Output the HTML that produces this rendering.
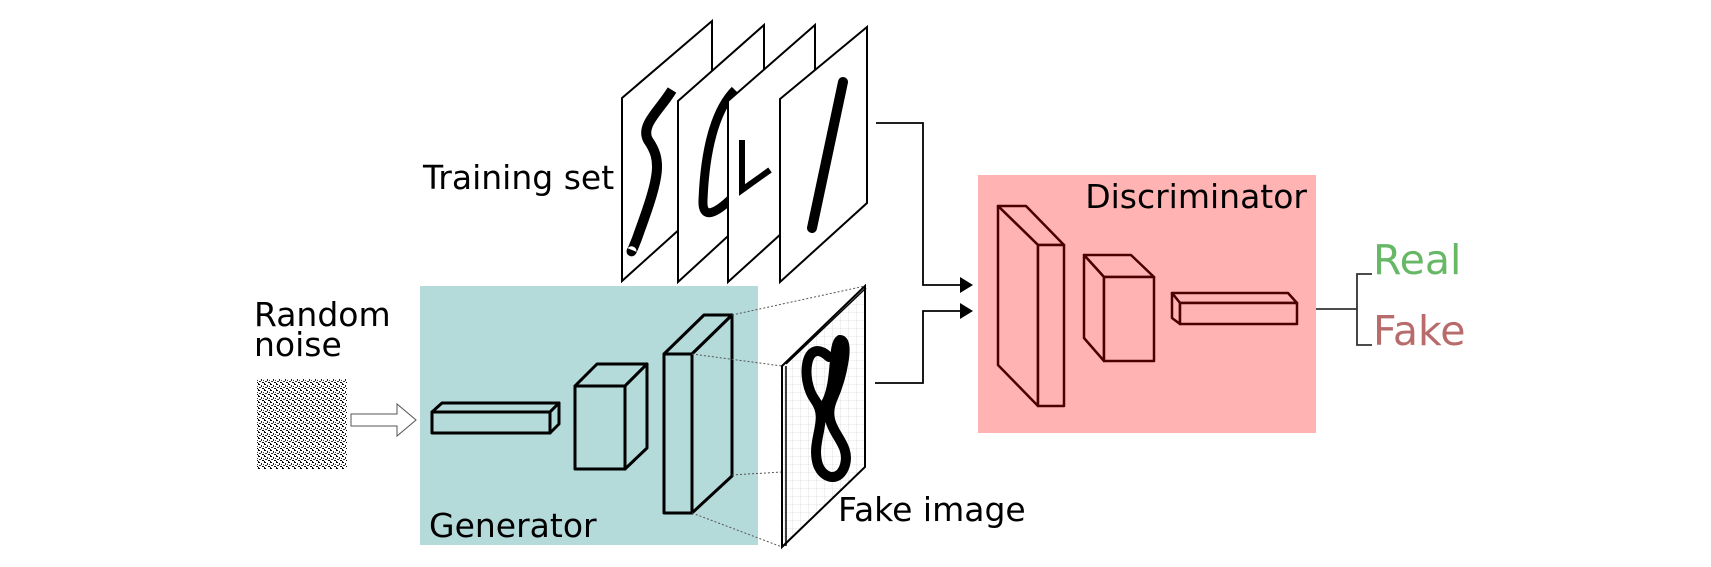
<!DOCTYPE html>
<html><head><meta charset="utf-8"><style>
html,body{margin:0;padding:0;background:#fff;}
svg{display:block;}
text{font-family:"DejaVu Sans","Liberation Sans",sans-serif;}
</style></head><body>
<svg width="1711" height="567" viewBox="0 0 1711 567" xmlns="http://www.w3.org/2000/svg">
<defs>
<pattern id="noise" width="6" height="6" patternUnits="userSpaceOnUse">
<rect width="6" height="6" fill="#fff"/>
<rect x="0" y="0" width="2" height="1" fill="#000"/><rect x="3" y="1" width="1" height="2" fill="#222"/>
<rect x="1" y="3" width="2" height="1" fill="#333"/><rect x="4" y="4" width="2" height="1" fill="#000"/>
<rect x="0" y="5" width="1" height="1" fill="#111"/><rect x="5" y="2" width="1" height="1" fill="#444"/>
</pattern>
<pattern id="grid" width="8" height="8" patternUnits="userSpaceOnUse">
<path d="M0 0V8M0 0H8" stroke="#ccc" stroke-width="0.6" fill="none"/>
</pattern>
</defs>

<rect x="420" y="286" width="338" height="259" fill="#b5dada"/>
<rect x="978" y="175" width="338" height="258" fill="#ffb3b3"/>

<rect x="257" y="379" width="90" height="90" fill="url(#noise)"/>
<path d="M351 414H397V404L416 420L397 436V426H351Z" fill="#fff" stroke="#555" stroke-width="1"/>

<g fill="#b5dada" stroke="#000" stroke-width="3" stroke-linejoin="round">
<path d="M432 412L442 403H559L550 412Z"/><path d="M550 412L559 403V424L550 433Z"/><rect x="432" y="412" width="118" height="21"/>
<path d="M575 386L597 364H647L625 386Z"/><path d="M625 386L647 364V448L625 469Z"/><rect x="575" y="386" width="50" height="83"/>
<path d="M664 354L704 315H732L692 354Z"/><path d="M692 354L732 315V476L692 513Z"/><rect x="664" y="354" width="28" height="159"/>
</g>
<g stroke="#555" stroke-width="1" stroke-dasharray="2,2" fill="none">
<path d="M732 315L865 286"/><path d="M692 354L782 366"/><path d="M732 475L865 467"/><path d="M692 513L782 547"/>
</g>
<path d="M782 366L865 286V467L782 547Z" fill="#fff"/>
<path d="M782 366L865 286V467L782 547Z" fill="url(#grid)" stroke="#000" stroke-width="2"/>
<path d="M786 364L866 288M786 366V546" stroke="#000" stroke-width="1.5"/>
<path d="M829 357C805 335 800 380 815 400C830 420 810 440 818 465C824 480 840 482 845 465C852 440 820 430 832 400C842 378 850 340 840 340C832 345 838 385 825 405" fill="none" stroke="#000" stroke-width="10" stroke-linecap="round"/>

<g fill="#fff" stroke="#000" stroke-width="2">
<path d="M622 98L712 21V200L622 281Z"/>
<path d="M672 90C660 110 640 125 648 140C662 160 660 175 640 230C635 245 630 255 632 250" fill="none" stroke="#000" stroke-width="10"/>
<path d="M678 101L764 25V203L678 282Z"/>
<path d="M735 90C715 110 705 150 703 200C702 220 715 215 735 195" fill="none" stroke="#000" stroke-width="9"/>
<path d="M728 101L815 25V203L728 282Z"/>
<path d="M742 140L742 190L770 170" fill="none" stroke="#000" stroke-width="6"/>
<path d="M780 99L867 27V203L780 282Z"/>
<path d="M843 82L812 228" fill="none" stroke="#000" stroke-width="10" stroke-linecap="round"/>
</g>

<g stroke="#000" stroke-width="1.8" fill="none">
<path d="M876 123H923V285H962"/>
<path d="M875 383H923V311H962"/>
</g>
<path d="M960 277L973 285L960 293Z M960 303L973 311L960 319Z" fill="#000"/>

<g fill="#ffb3b3" stroke="#4a0000" stroke-width="2.5" stroke-linejoin="round">
<path d="M998 206H1026L1064 245H1038Z"/><path d="M998 206L1038 245V406L998 365Z"/><rect x="1038" y="245" width="26" height="161"/>
<path d="M1084 255H1131L1154 277H1104Z"/><path d="M1084 255L1104 277V361L1084 338Z"/><rect x="1104" y="277" width="50" height="84"/>
<path d="M1172 293H1288L1297 303H1180Z"/><path d="M1172 293L1180 303V324L1172 318Z"/><rect x="1180" y="303" width="117" height="21"/>
</g>

<g stroke="#333" stroke-width="1.8" fill="none">
<path d="M1316 309H1357"/><path d="M1372 274H1357V345H1372"/>
</g>

<text x="254" y="326" font-size="33" fill="#000">Random</text>
<text x="254" y="356" font-size="33" fill="#000">noise</text>
<text x="423" y="189" font-size="33" fill="#000">Training set</text>
<text x="429" y="537" font-size="33" fill="#000">Generator</text>
<text x="838" y="521" font-size="33" fill="#000">Fake image</text>
<text x="1307" y="208" font-size="33" fill="#000" text-anchor="end">Discriminator</text>
<text x="1373" y="274" font-size="41" fill="#66b866">Real</text>
<text x="1373" y="345" font-size="41" fill="#b86b6b">Fake</text>
</svg>
</body></html>
